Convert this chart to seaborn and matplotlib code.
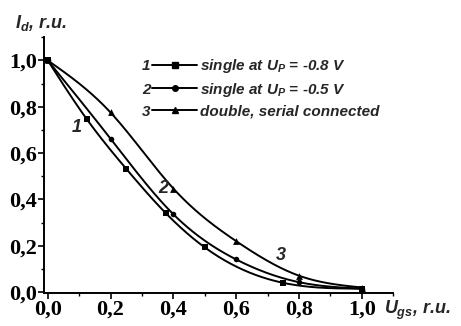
import numpy as np
import pandas as pd
import matplotlib
matplotlib.use("Agg")
import matplotlib.pyplot as plt
from matplotlib.lines import Line2D
from matplotlib.ticker import MultipleLocator, FixedLocator
import seaborn as sns

# Normalised drain current vs. normalised gate-source voltage
ugs_single08 = [0.0, 0.125, 0.25, 0.375, 0.5, 0.75, 1.0]
id_single08 = [1.0, 0.745, 0.532, 0.342, 0.193, 0.040, 0.015]

ugs_single05 = [0.0, 0.2, 0.4, 0.6, 0.8, 1.0]
id_single05 = [1.0, 0.662, 0.336, 0.141, 0.043, 0.015]

ugs_double = [0.0, 0.2, 0.4, 0.6, 0.8, 1.0]
id_double = [1.0, 0.775, 0.447, 0.220, 0.071, 0.020]

series_labels = ["single at $U_P$ = -0.8 V",
                 "single at $U_P$ = -0.5 V",
                 "double, serial connected"]
series_numbers = ["1", "2", "3"]
markers = ["s", "o", "^"]
x_ticks = [0.0, 0.2, 0.4, 0.6, 0.8, 1.0]
y_ticks = [0.0, 0.2, 0.4, 0.6, 0.8, 1.0]

sns.set_style("ticks")
plt.rcParams["mathtext.fontset"] = "custom"
plt.rcParams["mathtext.it"] = "Liberation Sans:bold:italic"
plt.rcParams["mathtext.rm"] = "Liberation Sans:bold:italic"
plt.rcParams["mathtext.bf"] = "Liberation Sans:bold:italic"

sans_bi = dict(family="Liberation Sans", weight="bold", style="italic")


def spline_curve(xs, ys, n=300):
    """Natural cubic spline through the measured points."""
    x = np.asarray(xs, float)
    y = np.asarray(ys, float)
    m = len(x)
    h = np.diff(x)
    delta = np.diff(y) / h
    A = np.zeros((m, m))
    b = np.zeros(m)
    A[0, 0] = A[-1, -1] = 1.0
    for i in range(1, m - 1):
        A[i, i - 1] = h[i - 1]
        A[i, i] = 2 * (h[i - 1] + h[i])
        A[i, i + 1] = h[i]
        b[i] = 6 * (delta[i] - delta[i - 1])
    M = np.linalg.solve(A, b)
    xg = np.linspace(x[0], x[-1], n)
    i = np.clip(np.searchsorted(x, xg, side="right") - 1, 0, m - 2)
    hi = h[i]
    a = x[i + 1] - xg
    c = xg - x[i]
    yg = (M[i] * a**3 / (6 * hi) + M[i + 1] * c**3 / (6 * hi)
          + (y[i] / hi - M[i] * hi / 6) * a
          + (y[i + 1] / hi - M[i + 1] * hi / 6) * c)
    return pd.DataFrame({"ugs": xg, "id": yg})


fig = plt.figure(figsize=(4.61, 3.26), dpi=100)
ax = fig.add_axes([0.096, 0.101, 0.757, 0.785])

datasets = [(ugs_single08, id_single08),
            (ugs_single05, id_single05),
            (ugs_double, id_double)]
for (xs, ys), m in zip(datasets, markers):
    df = pd.DataFrame({"ugs": xs, "id": ys})
    sns.lineplot(data=spline_curve(xs, ys), x="ugs", y="id", color="black",
                 lw=1.4, ax=ax)
    sns.scatterplot(data=df, x="ugs", y="id", marker=m, color="black",
                    s=16 if m != "^" else 24, edgecolor="black", linewidth=0,
                    ax=ax, zorder=3)

ax.set_xlim(-0.011, 1.1)
ax.set_ylim(-0.004, 1.1)
ax.set_xlabel("")
ax.set_ylabel("")
sns.despine(ax=ax)
for sp in ("left", "bottom"):
    ax.spines[sp].set_linewidth(1.4)
    ax.spines[sp].set_color("black")

ax.xaxis.set_major_locator(FixedLocator(x_ticks))
ax.yaxis.set_major_locator(FixedLocator(y_ticks))
ax.xaxis.set_minor_locator(MultipleLocator(0.1))
ax.yaxis.set_minor_locator(MultipleLocator(0.1))
ax.set_xticklabels([f"{v:.1f}".replace(".", ",") for v in x_ticks])
ax.set_yticklabels([f"{v:.1f}".replace(".", ",") for v in y_ticks])
ax.tick_params(which="major", direction="out", length=4, width=1.2,
               color="black", pad=1)
ax.tick_params(which="minor", direction="out", length=2.5, width=1.0,
               color="black")
for lab in ax.get_xticklabels() + ax.get_yticklabels():
    lab.set_fontfamily("Liberation Serif")
    lab.set_fontweight("bold")
    lab.set_fontsize(16)
    lab.set_color("black")

# Axis titles
fig.text(15 / 461, 1 - 23 / 326, "$I_d$, r.u.", fontsize=13, va="center",
         ha="left", **sans_bi)
fig.text(384 / 461, 1 - 310 / 326, "$U_{gs}$, r.u.", fontsize=13,
         va="center", ha="left", **sans_bi)

# Curve numbers
for num, (xv, yv) in zip(series_numbers, [(0.093, 0.711), (0.367, 0.447), (0.743, 0.16)]):
    ax.text(xv, yv, num, fontsize=13, ha="center", va="center", **sans_bi)

# Legend
handles = [Line2D([], [], color="black", lw=1.4, marker=m,
                  markersize=4 if m != "^" else 5) for m in markers]
leg = ax.legend(handles, series_labels, loc="upper left",
                bbox_to_anchor=(152 / 461, 1 - 57 / 326),
                bbox_transform=fig.transFigure, frameon=False,
                borderpad=0, borderaxespad=0, handlelength=2.95,
                handletextpad=0.2, labelspacing=0.38, numpoints=1,
                prop=dict(family="Liberation Sans", weight="bold",
                          style="italic", size=11))

# Series numbers in front of each legend entry
fig.canvas.draw()
renderer = fig.canvas.get_renderer()
inv = fig.transFigure.inverted()
for num, txt in zip(series_numbers, leg.get_texts()):
    bb = txt.get_window_extent(renderer)
    yc = inv.transform((0, (bb.y0 + bb.y1) / 2))[1]
    fig.text(146 / 461, yc, num, fontsize=11, ha="center", va="center",
             **sans_bi)

fig.savefig("out.png", dpi=100)
